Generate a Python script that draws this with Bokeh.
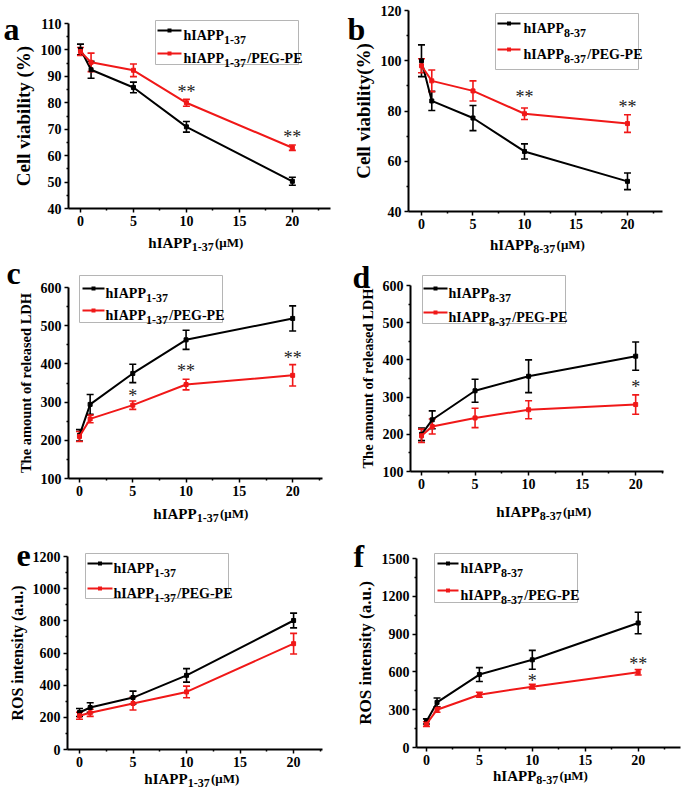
from bokeh.plotting import figure
from bokeh.models import (ColumnDataSource, Range1d, FixedTicker, Whisker, TeeHead,
                          Label, Arrow)
from bokeh.layouts import column, row
from bokeh.embed import file_html
from bokeh.resources import INLINE

FONT = "Liberation Serif"
BLACK = "#000000"
RED = "#f01818"

# ---------------- data ----------------
conc = [0, 1, 5, 10, 20]
x_ticks = [0, 5, 10, 15, 20]
x_minor = [2.5, 7.5, 12.5, 17.5, 22.5]

# a: cell viability, hIAPP1-37
a_free = [100.2, 92.5, 85.8, 70.9, 50.3]
a_free_err = [2.0, 3.2, 2.0, 2.0, 1.5]
a_peg = [99.4, 95.3, 92.3, 80.0, 63.0]
a_peg_err = [1.5, 3.5, 2.4, 1.3, 1.0]
a_sig = [(10, 85.5, "**"), (20, 68.5, "**")]

# b: cell viability, hIAPP8-37
b_free = [100.0, 84.0, 77.2, 63.9, 52.0]
b_free_err = [6.3, 3.8, 5.0, 3.0, 3.3]
b_peg = [98.0, 92.0, 88.0, 78.9, 75.0]
b_peg_err = [2.8, 4.3, 4.0, 2.3, 3.5]
b_sig = [(10, 87, "**"), (20, 83, "**")]

# c: released LDH, hIAPP1-37
c_free = [213, 294, 375, 463, 519]
c_free_err = [15, 26, 24, 25, 33]
c_peg = [210, 256, 292, 346, 370]
c_peg_err = [13, 10, 11, 14, 28]
c_sig = [(5, 326, "*"), (10, 391, "**"), (20, 426, "**")]

# d: released LDH, hIAPP8-37
d_free = [200, 239, 317, 356, 410]
d_free_err = [17, 24, 31, 44, 38]
d_peg = [196, 221, 244, 266, 280]
d_peg_err = [18, 20, 26, 24, 26]
d_sig = [(20, 338, "*")]

# e: ROS, hIAPP1-37
e_free = [230, 261, 323, 461, 802]
e_free_err = [25, 30, 40, 42, 46]
e_peg = [210, 228, 286, 358, 658]
e_peg_err = [22, 22, 40, 36, 64]
e_sig = []

# f: ROS, hIAPP8-37
f_free = [207, 358, 579, 696, 988]
f_free_err = [20, 35, 55, 75, 85]
f_peg = [186, 300, 419, 483, 597]
f_peg_err = [18, 20, 20, 18, 22]
f_sig = [(10, 563, "*"), (20, 695, "**")]

# ---------------- helpers ----------------
WB = {'h': 556, 'I': 389, 'A': 722, 'P': 611, '1': 500, '-': 333, '3': 500, '7': 500,
      '8': 500, ' ': 250, '(': 333, 'μ': 576, 'M': 944, ')': 333, '/': 278, 'E': 667,
      'G': 778}


def tw(t, size, f=1.0):
    return sum(WB.get(c, 500) for c in t) * size / 1000.0 * f


def rich(p, x, y, pieces):
    for t, size, dy, f in pieces:
        p.add_layout(Label(x=x, y=y + dy, x_units="screen", y_units="screen", text=t,
                           text_font=FONT, text_font_size=f"{size}px",
                           text_font_style="bold", text_baseline="alphabetic",
                           text_align="left", text_color="black"))
        x += tw(t, size, f)


def seg(p, x0, y0, x1, y1, color, width):
    p.add_layout(Arrow(end=None, x_start=x0, y_start=y0, x_end=x1, y_end=y1,
                       start_units="screen", end_units="screen",
                       line_color=color, line_width=width))


def make_panel(spec, W, H):
    L, R, T, B = spec["frame"]
    x0, x1 = spec["xr"]
    y0, y1 = spec["yr"]
    kx = (x1 - x0) / (R - L)
    ky = (y1 - y0) / (B - T)
    p = figure(width=W, height=H,
               x_range=Range1d(x0 - L * kx, x1 + (W - R) * kx),
               y_range=Range1d(y0 - (H - B) * ky, y1 + T * ky),
               output_backend="svg", toolbar_location=None,
               min_border=0, min_border_left=0, min_border_right=0,
               min_border_top=0, min_border_bottom=0,
               outline_line_color=None, background_fill_color="white",
               border_fill_color="white")

    def sy(ry):
        return H - ry

    p.xgrid.visible = False
    p.ygrid.visible = False
    p.xaxis.fixed_location = y0
    p.yaxis.fixed_location = x0
    p.xaxis.bounds = (x0, x1)
    p.yaxis.bounds = (y0, y1)
    p.xaxis.ticker = FixedTicker(ticks=x_ticks, minor_ticks=x_minor)
    p.yaxis.ticker = FixedTicker(ticks=spec["yt"], minor_ticks=spec["ym"])
    for ax in (p.xaxis[0], p.yaxis[0]):
        ax.axis_line_width = 2
        ax.axis_line_color = "black"
        ax.major_tick_line_width = 1.5
        ax.minor_tick_line_width = 1.5
        ax.major_tick_out = 4
        ax.major_tick_in = 0
        ax.minor_tick_out = 2
        ax.minor_tick_in = 0
        ax.major_label_text_font = FONT
        ax.major_label_text_font_style = "bold"
        ax.major_label_text_font_size = "14px"
        ax.major_label_text_color = "black"
        ax.major_label_standoff = 3
    p.yaxis.axis_label = spec["ylabel"]
    p.yaxis.axis_label_text_font = FONT
    p.yaxis.axis_label_text_font_style = "bold"
    p.yaxis.axis_label_text_font_size = spec["ylsize"]
    p.yaxis.axis_label_text_color = "black"
    p.yaxis.axis_label_standoff = 4

    for vals, errs, color in [(spec["free"], spec["free_err"], BLACK),
                              (spec["peg"], spec["peg_err"], RED)]:
        src = ColumnDataSource(dict(x=conc, y=vals,
                                    upper=[v + e for v, e in zip(vals, errs)],
                                    lower=[v - e for v, e in zip(vals, errs)]))
        p.line("x", "y", source=src, line_color=color, line_width=2)
        p.scatter("x", "y", source=src, marker="square", size=4, color=color)
        p.add_layout(Whisker(source=src, base="x", upper="upper", lower="lower",
                             dimension="height", line_color=color, line_width=1.6,
                             upper_head=TeeHead(size=7, line_color=color, line_width=1.6),
                             lower_head=TeeHead(size=7, line_color=color, line_width=1.6)))

    for x, y, t in spec["sig"]:
        p.add_layout(Label(x=x, y=y, text=t, text_font=FONT, text_font_size="18px",
                           text_align="center", text_baseline="middle", y_offset=-4,
                           text_color="#222222"))

    # panel letter
    lx, ly = spec["letter_pos"]
    p.add_layout(Label(x=lx, y=sy(ly), x_units="screen", y_units="screen",
                       text=spec["letter"], text_font=FONT, text_font_size="32px",
                       text_font_style="bold", text_baseline="alphabetic",
                       text_color="black"))

    # x axis label with subscript
    sub = spec["sub"]
    SF = 1.06
    pieces = [("hIAPP", 15, 0, 1.0), (sub, 12, -4, SF), (spec["tail"], 13, 0, 1.0)]
    total = sum(tw(t, sz, f) for t, sz, _, f in pieces)
    rich(p, spec["xl_cx"] - total / 2, sy(B + spec["xl_off"]), pieces)

    # legend box
    bl, bt, br, bb = spec["lbox"]
    gray = "#b5b5b5"
    seg(p, bl, sy(bt), br, sy(bt), gray, 1)
    seg(p, bl, sy(bb), br, sy(bb), gray, 1)
    seg(p, bl, sy(bt), bl, sy(bb), gray, 1)
    seg(p, br, sy(bt), br, sy(bb), gray, 1)
    r1, r2 = spec["lrows"]
    lx0, lx1 = spec["lline"]
    xm = (lx0 + lx1) / 2
    for ry, color, lp in [(r1, BLACK, [("hIAPP", 14, 0, 1.0), (sub, 12, -4, SF)]),
                          (r2, RED, [("hIAPP", 14, 0, 1.0), (sub, 12, -4, SF),
                                     ("/PEG-PE", 14, 0, 1.0)])]:
        seg(p, lx0, sy(ry), lx1, sy(ry), color, 2)
        seg(p, xm - 2, sy(ry), xm + 2, sy(ry), color, 4)
        rich(p, spec["ltext"], sy(ry + 5), lp)
    return p


specs = [
    dict(letter="a", free=a_free, free_err=a_free_err, peg=a_peg, peg_err=a_peg_err, sig=a_sig,
         yr=(40, 110), yt=list(range(40, 111, 10)), ym=list(range(45, 110, 10)),
         ylabel="Cell viability (%)", ylsize="19px", sub="1-37", tail=" (μM)",
         frame=(68, 330, 23, 208), xr=(-1.13, 23.6), letter_pos=(3, 28),
         xl_cx=197, xl_off=34, lbox=(155, 20, 298, 64), lrows=(30, 53), lline=(157, 181),
         ltext=183),
    dict(letter="b", free=b_free, free_err=b_free_err, peg=b_peg, peg_err=b_peg_err, sig=b_sig,
         yr=(40, 120), yt=list(range(40, 121, 20)), ym=list(range(50, 120, 20)),
         ylabel="Cell viability(%)", ylsize="19px", sub="8-37", tail="(μM)",
         frame=(68, 322, 10, 211), xr=(-1.26, 23.4), letter_pos=(7, 28),
         xl_cx=197, xl_off=33, lbox=(155, 13, 298, 69), lrows=(23, 49), lline=(157, 180),
         ltext=183),
    dict(letter="c", free=c_free, free_err=c_free_err, peg=c_peg, peg_err=c_peg_err, sig=c_sig,
         yr=(100, 600), yt=list(range(100, 601, 100)), ym=list(range(150, 600, 100)),
         ylabel="The amount of released LDH", ylsize="14.5px", sub="1-37", tail=" (μM)",
         frame=(68, 322, 31, 222), xr=(-1.03, 22.8), letter_pos=(6, 16),
         xl_cx=202, xl_off=35, lbox=(79, 19, 222, 66), lrows=(32, 54), lline=(82, 104),
         ltext=105),
    dict(letter="d", free=d_free, free_err=d_free_err, peg=d_peg, peg_err=d_peg_err, sig=d_sig,
         yr=(100, 600), yt=list(range(100, 601, 100)), ym=list(range(150, 600, 100)),
         ylabel="The amount of released LDH", ylsize="14.5px", sub="8-37", tail=" (μM)",
         frame=(70, 323, 29, 215), xr=(-1.03, 22.6), letter_pos=(12, 20),
         xl_cx=205, xl_off=40, lbox=(82, 19, 225, 67), lrows=(32, 56), lline=(83, 107),
         ltext=108),
    dict(letter="e", free=e_free, free_err=e_free_err, peg=e_peg, peg_err=e_peg_err, sig=e_sig,
         yr=(0, 1200), yt=list(range(0, 1201, 200)), ym=list(range(100, 1200, 200)),
         ylabel="ROS intensity (a.u.)", ylsize="16px", sub="1-37", tail=" (μM)",
         frame=(67, 322, 31, 224), xr=(-1.12, 22.7), letter_pos=(16, 30),
         xl_cx=193, xl_off=29, lbox=(85, 28, 228, 73), lrows=(38, 63), lline=(87, 112),
         ltext=113),
    dict(letter="f", free=f_free, free_err=f_free_err, peg=f_peg, peg_err=f_peg_err, sig=f_sig,
         yr=(0, 1500), yt=list(range(0, 1501, 300)), ym=list(range(150, 1500, 300)),
         ylabel="ROS intensity (a.u.)", ylsize="17px", sub="8-37", tail="(μM)",
         frame=(76, 340, 33, 222), xr=(-0.94, 24.0), letter_pos=(13, 30),
         xl_cx=200, xl_off=28, lbox=(94, 28, 237, 77), lrows=(38, 65), lline=(97, 118),
         ltext=120),
]

widths = [340, 345]
heights = [256, 269, 270]
figs = []
for i, spec in enumerate(specs):
    figs.append(make_panel(spec, widths[i % 2], heights[i // 2]))

layout = column(row(figs[0], figs[1], spacing=0),
                row(figs[2], figs[3], spacing=0),
                row(figs[4], figs[5], spacing=0), spacing=0)

open("out.html", "w").write(file_html(layout, INLINE, "hIAPP"))
